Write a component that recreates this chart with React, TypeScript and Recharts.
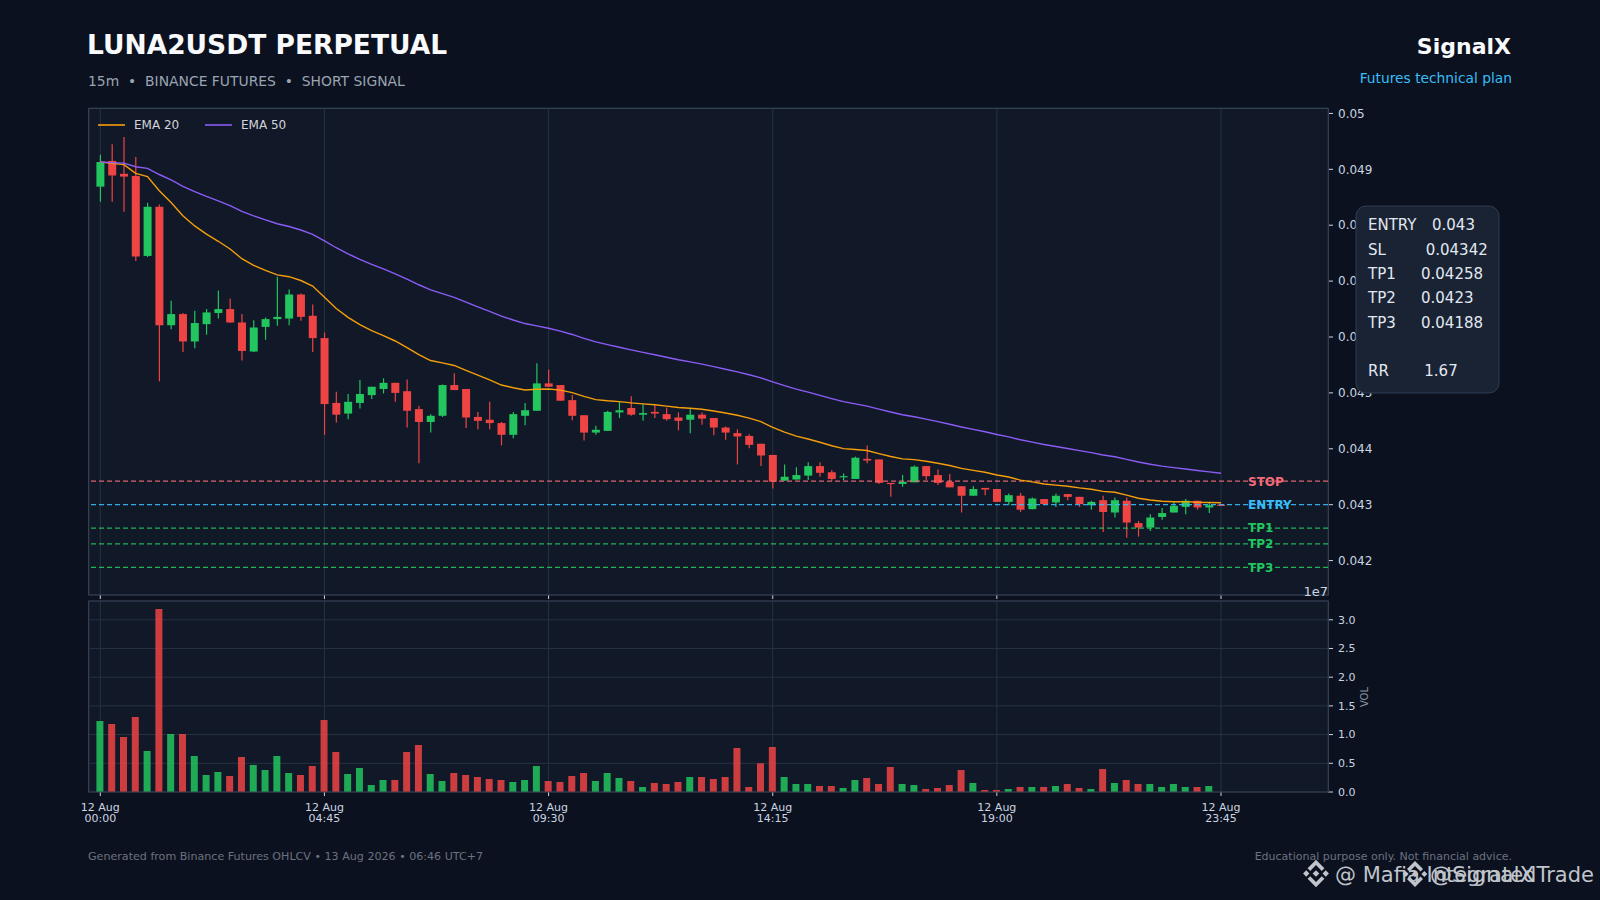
import React from 'react';
import {
  ComposedChart,
  Bar,
  Line,
  XAxis,
  YAxis,
  CartesianGrid,
  ReferenceLine,
  Legend,
  Cell,
} from 'recharts';

const FONT = '"DejaVu Sans", Verdana, sans-serif';

// ---------- data ----------
const opens = [
  0.04869, 0.04915, 0.04892, 0.04888, 0.04745, 0.04833, 0.04621, 0.04641, 0.04592, 0.04623,
  0.04643, 0.0465, 0.04626, 0.04574, 0.04618, 0.04632, 0.04633, 0.04676, 0.04638, 0.04598,
  0.04482, 0.04463, 0.04482, 0.04496, 0.04507, 0.04518, 0.04503, 0.04471, 0.04448, 0.04459,
  0.04514, 0.04507, 0.04457, 0.04452, 0.04446, 0.04425, 0.04459, 0.04468, 0.04517, 0.04514,
  0.04487, 0.0446, 0.04429, 0.04432, 0.04465, 0.04473, 0.04461, 0.04466, 0.04462, 0.04456,
  0.04452, 0.04461, 0.04455, 0.04438, 0.04428, 0.04423, 0.04409, 0.04389, 0.04343, 0.04345,
  0.04352, 0.04369, 0.04358, 0.04349, 0.04346, 0.04382, 0.04381, 0.04339, 0.04337, 0.0434,
  0.04369, 0.04353, 0.04341, 0.04333, 0.04316, 0.0433, 0.04328, 0.04305, 0.04316, 0.04292,
  0.0431, 0.04304, 0.04319, 0.04314, 0.04299, 0.04308, 0.04286, 0.04307, 0.04267, 0.04259,
  0.04278, 0.04286, 0.04296, 0.04307, 0.04295, 0.043,
];
const highs = [
  0.04926, 0.04945, 0.04958, 0.04922, 0.0484, 0.04837, 0.04665, 0.04643, 0.04647, 0.0465,
  0.04683, 0.04669, 0.04641, 0.0463, 0.04635, 0.04708, 0.04685, 0.04678, 0.04658, 0.04608,
  0.04502, 0.04498, 0.04523, 0.04511, 0.04526, 0.04518, 0.04524, 0.04477, 0.04462, 0.04515,
  0.04535, 0.04507, 0.04466, 0.04484, 0.04448, 0.04466, 0.04482, 0.04553, 0.04542, 0.04514,
  0.04496, 0.0446, 0.04441, 0.04468, 0.04484, 0.04494, 0.0448, 0.04478, 0.04474, 0.04465,
  0.04472, 0.04465, 0.04455, 0.0444, 0.04435, 0.04426, 0.04409, 0.04389, 0.04372, 0.04367,
  0.04376, 0.04376, 0.04362, 0.04356, 0.04386, 0.04406, 0.04381, 0.04339, 0.04353, 0.0437,
  0.04369, 0.04363, 0.04355, 0.04333, 0.04333, 0.0433, 0.04328, 0.0432, 0.04321, 0.04313,
  0.0431, 0.0432, 0.04319, 0.04314, 0.04307, 0.04316, 0.04313, 0.04313, 0.04271, 0.04283,
  0.04294, 0.04305, 0.0431, 0.04307, 0.04304, 0.043,
];
const lows = [
  0.04842, 0.04842, 0.04824, 0.04736, 0.04743, 0.04521, 0.04614, 0.04573, 0.0458, 0.04604,
  0.04633, 0.04625, 0.04558, 0.04573, 0.04595, 0.0462, 0.04621, 0.04629, 0.04573, 0.04425,
  0.04447, 0.04453, 0.04472, 0.04489, 0.04499, 0.04484, 0.04438, 0.04374, 0.04429, 0.04457,
  0.04505, 0.04437, 0.04435, 0.04435, 0.04406, 0.04419, 0.04442, 0.04468, 0.04511, 0.04486,
  0.04451, 0.04415, 0.04425, 0.04432, 0.04455, 0.04459, 0.0445, 0.04455, 0.0445, 0.04433,
  0.04428, 0.04443, 0.04424, 0.04416, 0.04372, 0.04401, 0.04369, 0.04329, 0.04343, 0.04345,
  0.04344, 0.0435, 0.04343, 0.04344, 0.04346, 0.04374, 0.04337, 0.04314, 0.04332, 0.0434,
  0.04344, 0.04335, 0.04331, 0.04286, 0.04316, 0.04317, 0.04305, 0.04299, 0.04287, 0.04292,
  0.04299, 0.04296, 0.04308, 0.04296, 0.04291, 0.04251, 0.04277, 0.04241, 0.04243, 0.04253,
  0.04273, 0.04286, 0.04283, 0.04291, 0.04285, 0.04298,
];
const closes = [
  0.04913, 0.04889, 0.04887, 0.04744, 0.04833, 0.04621, 0.04641, 0.04592, 0.04625, 0.04644,
  0.0465, 0.04626, 0.04575, 0.04617, 0.04632, 0.04636, 0.04676, 0.04636, 0.04598, 0.0448,
  0.04461, 0.04484, 0.04498, 0.04511, 0.04518, 0.045, 0.04468, 0.04448, 0.04459, 0.04514,
  0.04505, 0.04456, 0.0445, 0.04446, 0.04425, 0.04462, 0.04469, 0.04517, 0.04511, 0.04486,
  0.04459, 0.04429, 0.04434, 0.04466, 0.04469, 0.04461, 0.04464, 0.04463, 0.04453, 0.0445,
  0.04461, 0.04454, 0.04438, 0.04429, 0.04422, 0.04407, 0.04388, 0.04341, 0.0435, 0.04353,
  0.04369, 0.04357, 0.04346, 0.04351, 0.04384, 0.04379, 0.04339, 0.04338, 0.04341, 0.04368,
  0.04351, 0.04339, 0.04331, 0.04316, 0.04328, 0.04327, 0.04305, 0.04317, 0.04291, 0.04311,
  0.04301, 0.04316, 0.04314, 0.04301, 0.04305, 0.04287, 0.04308, 0.04268, 0.04259, 0.04277,
  0.04285, 0.04298, 0.04307, 0.04295, 0.04299, 0.04298,
];
const volumes = [
  12370000, 11850000, 9580000, 13070000, 7140000, 31880000, 10100000, 10100000, 6270000, 2960000,
  3480000, 2790000, 6100000, 4700000, 3830000, 6270000, 3310000, 2960000, 4530000, 12540000,
  6970000, 3140000, 4180000, 1220000, 2090000, 2090000, 6970000, 8190000, 3140000, 1920000,
  3310000, 2960000, 2610000, 2260000, 2090000, 1740000, 2090000, 4530000, 1920000, 1740000,
  2790000, 3310000, 1920000, 3310000, 2440000, 1920000, 870000, 1570000, 1390000, 1740000,
  2610000, 2610000, 2260000, 2610000, 7670000, 870000, 5000000, 7840000, 2610000, 1390000,
  1390000, 1050000, 1050000, 700000, 2090000, 2440000, 1390000, 4360000, 1390000, 1220000,
  520000, 700000, 1220000, 3830000, 1570000, 350000, 350000, 520000, 870000, 870000,
  870000, 1050000, 1390000, 700000, 520000, 4010000, 1570000, 2090000, 1390000, 1390000,
  870000, 1390000, 870000, 870000, 1050000, 0,
];

const tickIndex = [0, 19, 38, 57, 76, 95];
const tickDates = ['12 Aug', '12 Aug', '12 Aug', '12 Aug', '12 Aug', '12 Aug'];
const tickTimes = ['00:00', '04:45', '09:30', '14:15', '19:00', '23:45'];
const priceTicks = [0.042, 0.043, 0.044, 0.045, 0.046, 0.047, 0.048, 0.049, 0.05];
const volumeTicks = [0, 5000000, 10000000, 15000000, 20000000, 25000000, 30000000];

const ENTRY = 0.043;
const STOP = 0.04342;
const TP1 = 0.04258;
const TP2 = 0.0423;
const TP3 = 0.04188;
const RR = 1.67;

const levelNames = ['STOP', 'ENTRY', 'TP1', 'TP2', 'TP3'];
const levelValues = [STOP, ENTRY, TP1, TP2, TP3];

const infoLabels = ['ENTRY', 'SL', 'TP1', 'TP2', 'TP3', 'RR'];
const infoValues = [ENTRY, STOP, TP1, TP2, TP3, RR];

// ---------- indicators (standard EMA of the closes) ----------
function ema(values: number[], period: number): number[] {
  const k = 2 / (period + 1);
  const out: number[] = [];
  values.forEach((v, i) => {
    out.push(i === 0 ? v : v * k + out[i - 1] * (1 - k));
  });
  return out;
}
const ema20 = ema(closes, 20);
const ema50 = ema(closes, 50);

const rows = closes.map((c, i) => ({
  i,
  open: opens[i],
  high: highs[i],
  low: lows[i],
  close: c,
  vol: volumes[i],
  ema20: ema20[i],
  ema50: ema50[i],
  up: c >= opens[i],
}));

// ---------- styling ----------
const BG = '#0b111e';
const PANEL = '#111827';
const GRID = '#273243';
const BORDER = '#323f52';
const TEXT = '#cbd5e1';
const GREEN = '#22c55e';
const RED = '#ef4444';
const ORANGE = '#f59e0b';
const PURPLE = '#8b5cf6';
const BLUE = '#38bdf8';
const STOPC = '#f26b78';

const levelColors = [STOPC, BLUE, GREEN, GREEN, GREEN];

const X_DOMAIN: [number, number] = [-0.958, 104.07];
const PRICE_DOMAIN: [number, number] = [0.041384, 0.050097];
const VOL_DOMAIN: [number, number] = [0, 33270000];

const Candle = (props: any) => {
  const { x, y, width, height, payload } = props;
  if (x == null || y == null || !payload) return null;
  const top = Math.min(y, y + height);
  const bottom = Math.max(y, y + height);
  const range = payload.high - payload.low;
  const pxPer = range > 0 ? (bottom - top) / range : 0;
  const yOf = (p: number) => top + (payload.high - p) * pxPer;
  const oy = yOf(payload.open);
  const cy = yOf(payload.close);
  const color = payload.up ? GREEN : RED;
  const cx = x + width / 2;
  const bodyTop = Math.min(oy, cy);
  const bodyH = Math.max(Math.abs(cy - oy), 1.2);
  return (
    <g>
      <line x1={cx} x2={cx} y1={top} y2={bottom} stroke={color} strokeWidth={1.2} />
      <rect x={x} y={bodyTop} width={width} height={bodyH} fill={color} />
    </g>
  );
};

const LevelLabel = (props: any) => {
  const { viewBox, text, color } = props;
  if (!viewBox) return null;
  const x = viewBox.x + viewBox.width - 80;
  return (
    <text x={x} y={viewBox.y + 4.3} fill={color} fontSize={12} fontWeight={700} fontFamily={FONT}>
      {text}
    </text>
  );
};

const XTick = (props: any) => {
  const { x, y, payload } = props;
  const k = tickIndex.indexOf(payload.value);
  if (k < 0) return null;
  return (
    <text x={x} y={y} textAnchor="middle" fill={TEXT} fontSize={11} fontFamily={FONT}>
      <tspan x={x} dy={12.5}>
        {tickDates[k]}
      </tspan>
      <tspan x={x} dy={11.5}>
        {tickTimes[k]}
      </tspan>
    </text>
  );
};

const LegendContent = (props: any) => {
  const items = (props.payload || []).filter((p: any) => p.type !== 'none');
  return (
    <svg width={260} height={20} style={{ display: 'block' }}>
      {items.map((p: any, j: number) => (
        <g key={p.value}>
          <line x1={2 + j * 107} x2={29 + j * 107} y1={10} y2={10} stroke={p.color} strokeWidth={1.6} />
          <text x={38 + j * 107} y={14.3} fill="#d1d5db" fontSize={12} fontFamily={FONT}>
            {p.value}
          </text>
        </g>
      ))}
    </svg>
  );
};

const BinanceMark = ({ cx, cy, s, fill }: { cx: number; cy: number; s: number; fill: string }) => {
  const dia = (x: number, y: number, r: number) =>
    `M${cx + x * s},${cy + (y - r) * s} L${cx + (x + r) * s},${cy + y * s} L${cx + x * s},${cy + (y + r) * s} L${cx + (x - r) * s},${cy + y * s} Z`;
  const chevron = (sign: number) =>
    `M${cx},${cy + sign * -13 * s} L${cx + 8 * s},${cy + sign * -5 * s} L${cx + 5.5 * s},${cy + sign * -2.5 * s} L${cx},${cy + sign * -8 * s} L${cx - 5.5 * s},${cy + sign * -2.5 * s} L${cx - 8 * s},${cy + sign * -5 * s} Z`;
  return (
    <g fill={fill}>
      <path d={dia(0, 0, 3.2)} />
      <path d={dia(-9.3, 0, 3)} />
      <path d={dia(9.3, 0, 3)} />
      <path d={chevron(1)} />
      <path d={chevron(-1)} />
    </g>
  );
};

const infoX = [1432, 1425.7, 1421, 1421, 1421, 1424.3];
const infoY = [230, 254.5, 279, 303.3, 327.7, 376.3];

export default function App() {
  return (
    <div
      style={{
        position: 'fixed',
        left: 0,
        top: 0,
        width: 1600,
        height: 900,
        background: BG,
        overflow: 'hidden',
        fontFamily: FONT,
      }}
    >
      {/* panel backgrounds */}
      <div style={{ position: 'absolute', left: 89, top: 108, width: 1239, height: 487, background: PANEL }} />
      <div style={{ position: 'absolute', left: 89, top: 601, width: 1239, height: 191, background: PANEL }} />

      {/* price panel */}
      <div style={{ position: 'absolute', left: 0, top: 0 }}>
        <ComposedChart
          width={1600}
          height={601}
          data={rows}
          margin={{ top: 108, right: 212, bottom: 0, left: 89 }}
        >
          <CartesianGrid stroke={GRID} strokeWidth={1} />
          <XAxis
            type="number"
            dataKey="i"
            domain={X_DOMAIN}
            ticks={tickIndex}
            allowDataOverflow
            interval={0}
            height={6}
            tickSize={4}
            tickLine={{ stroke: TEXT }}
            axisLine={false}
            tickFormatter={() => ''}
          />
          <YAxis
            yAxisId="p"
            orientation="right"
            type="number"
            domain={PRICE_DOMAIN}
            ticks={priceTicks}
            allowDataOverflow
            interval={0}
            width={60}
            tickSize={5}
            tickMargin={5}
            axisLine={false}
            tickLine={{ stroke: TEXT }}
            tick={{ fill: TEXT, fontSize: 12, fontFamily: FONT }}
            tickFormatter={(v: number) => String(Number(v.toFixed(3)))}
          />
          {levelValues.map((v, k) => (
            <ReferenceLine
              key={levelNames[k]}
              yAxisId="p"
              y={v}
              stroke={levelColors[k]}
              strokeOpacity={0.9}
              strokeWidth={1.2}
              strokeDasharray="5 3"
              label={<LevelLabel text={levelNames[k]} color={levelColors[k]} />}
            />
          ))}
          <Bar
            yAxisId="p"
            dataKey={(d: any) => [d.low, d.high]}
            barSize={8}
            shape={(p: any) => <Candle {...p} />}
            isAnimationActive={false}
            legendType="none"
          />
          <Line
            yAxisId="p"
            type="linear"
            dataKey="ema20"
            name="EMA 20"
            stroke={ORANGE}
            strokeWidth={1.4}
            dot={false}
            activeDot={false}
            isAnimationActive={false}
          />
          <Line
            yAxisId="p"
            type="linear"
            dataKey="ema50"
            name="EMA 50"
            stroke={PURPLE}
            strokeWidth={1.4}
            dot={false}
            activeDot={false}
            isAnimationActive={false}
          />
          <Legend
            layout="horizontal"
            verticalAlign="middle"
            align="center"
            wrapperStyle={{ position: 'absolute', left: 96, top: 115, width: 260, height: 20 }}
            content={<LegendContent />}
          />
        </ComposedChart>
      </div>

      {/* volume panel */}
      <div style={{ position: 'absolute', left: 0, top: 595 }}>
        <ComposedChart
          width={1600}
          height={235}
          data={rows}
          margin={{ top: 6, right: 212, bottom: 4, left: 89 }}
        >
          <CartesianGrid stroke={GRID} strokeWidth={1} />
          <XAxis
            type="number"
            dataKey="i"
            domain={X_DOMAIN}
            ticks={tickIndex}
            allowDataOverflow
            interval={0}
            height={34}
            tickSize={4}
            tickMargin={2}
            tickLine={{ stroke: TEXT }}
            axisLine={false}
            tick={<XTick />}
          />
          <YAxis
            orientation="right"
            type="number"
            domain={VOL_DOMAIN}
            ticks={volumeTicks}
            allowDataOverflow
            interval={0}
            width={60}
            tickSize={5}
            tickMargin={5}
            axisLine={false}
            tickLine={{ stroke: TEXT }}
            tick={{ fill: TEXT, fontSize: 11, fontFamily: FONT }}
            tickFormatter={(v: number) => (v / 10000000).toFixed(1)}
          />
          <Bar dataKey="vol" barSize={7} isAnimationActive={false} legendType="none">
            {rows.map((r) => (
              <Cell key={r.i} fill={r.up ? GREEN : RED} fillOpacity={0.85} />
            ))}
          </Bar>
        </ComposedChart>
      </div>

      {/* overlay: borders, titles, info box, footer */}
      <svg
        width={1600}
        height={900}
        style={{ position: 'absolute', left: 0, top: 0, pointerEvents: 'none' }}
      >
        <rect x={88.5} y={108.5} width={1240} height={486.5} fill="none" stroke={BORDER} strokeWidth={1} />
        <rect x={88.5} y={601} width={1240} height={191} fill="none" stroke={BORDER} strokeWidth={1} />

        <text x={87} y={54} fill="#f8fafc" fontSize={26.5} fontWeight={700} fontFamily={FONT}>
          LUNA2USDT PERPETUAL
        </text>
        <text x={88} y={86} fill="#9aa4b2" fontSize={13.9} fontFamily={FONT} style={{ whiteSpace: 'pre' }}>
          {'15m  •  BINANCE FUTURES  •  SHORT SIGNAL'}
        </text>
        <text x={1511} y={54} textAnchor="end" fill="#f8fafc" fontSize={22} fontWeight={700} fontFamily={FONT}>
          SignalX
        </text>
        <text x={1512} y={83} textAnchor="end" fill={BLUE} fontSize={13.8} fontFamily={FONT}>
          Futures technical plan
        </text>

        <text x={1328} y={595.5} textAnchor="end" fill={TEXT} fontSize={13} fontFamily={FONT}>
          1e7
        </text>
        <text
          x={1364}
          y={697}
          transform="rotate(-90 1364 697)"
          textAnchor="middle"
          dominantBaseline="central"
          fill="#8b95a5"
          fontSize={10}
          fontFamily={FONT}
        >
          VOL
        </text>

        {/* info box */}
        <rect x={1356} y={206} width={143} height={187} rx={10} ry={10} fill="#192334" stroke="#2f3d52" strokeWidth={1} />
        {infoLabels.map((lab, k) => (
          <g key={lab}>
            <text x={1368} y={infoY[k]} fill="#e2e8f0" fontSize={15} fontFamily={FONT}>
              {lab}
            </text>
            <text x={infoX[k]} y={infoY[k]} fill="#e2e8f0" fontSize={15} fontFamily={FONT}>
              {String(infoValues[k])}
            </text>
          </g>
        ))}

        <text x={88} y={860} fill="#6b7280" fontSize={11.1} fontFamily={FONT}>
          Generated from Binance Futures OHLCV • 13 Aug 2026 • 06:46 UTC+7
        </text>
        <text x={1512} y={860} textAnchor="end" fill="#6b7280" fontSize={11} fontFamily={FONT}>
          Educational purpose only. Not financial advice.
        </text>

        {/* watermarks (overlapping, as in the reference) */}
        <g opacity={0.9}>
          <BinanceMark cx={1316} cy={873.5} s={1.05} fill="#d4d8de" />
          <text x={1335} y={881.5} fill="#d4d8de" fontSize={21} fontFamily={FONT}>
            @ Mafia IntegratedTrade
          </text>
          <BinanceMark cx={1415} cy={874} s={1.0} fill="#d4d8de" />
          <text x={1430} y={881.5} fill="#d4d8de" fontSize={22} fontFamily={FONT}>
            @SignalX
          </text>
        </g>
      </svg>
    </div>
  );
}
